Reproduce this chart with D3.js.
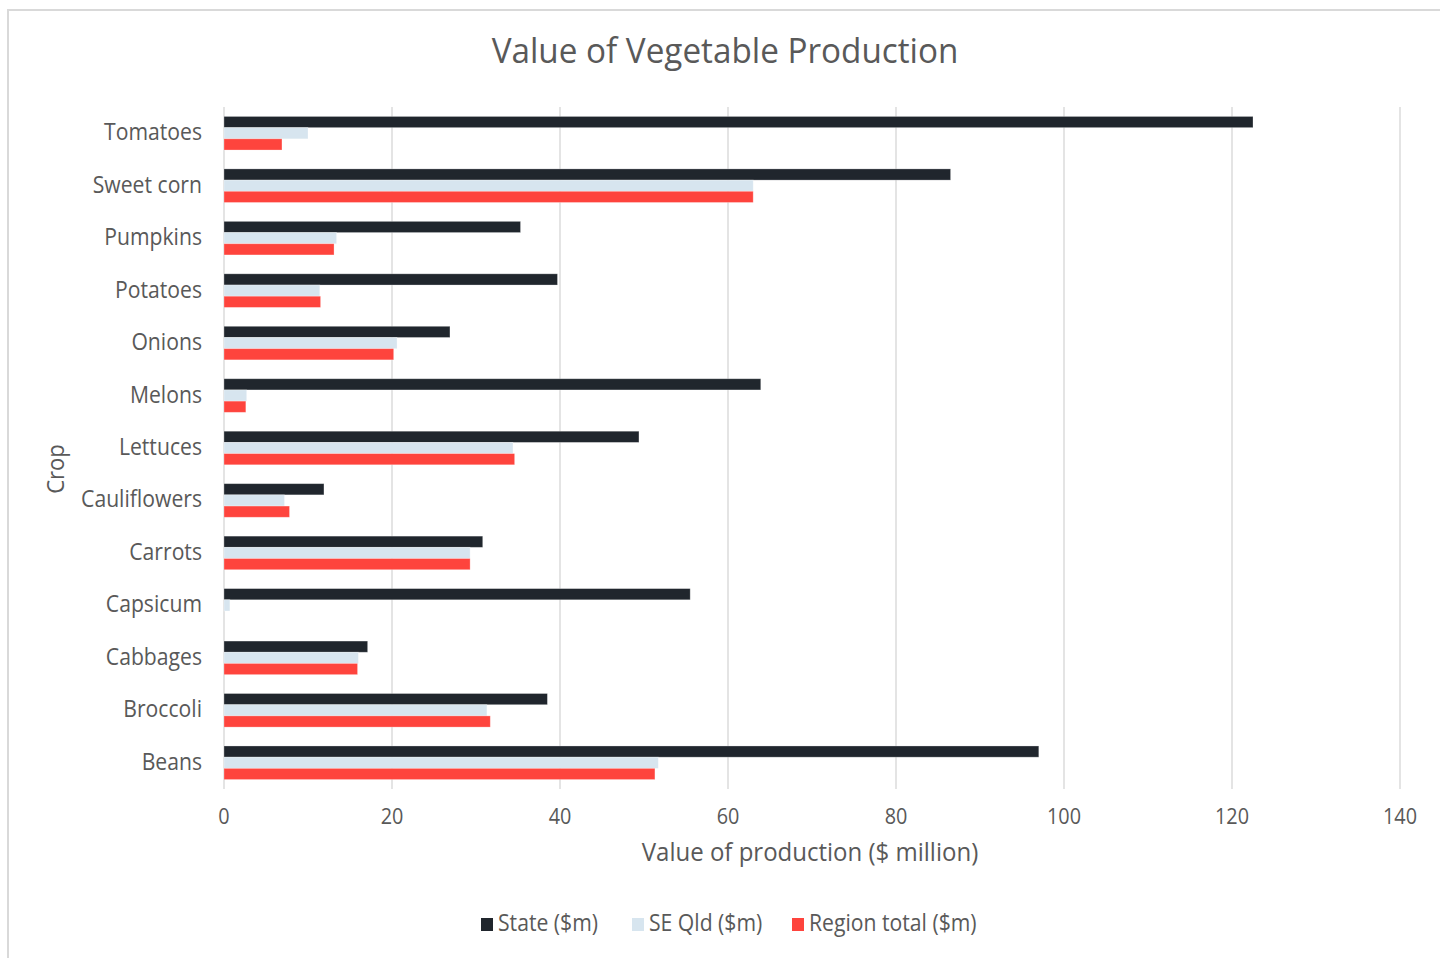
<!DOCTYPE html>
<html>
<head>
<meta charset="utf-8">
<script src="https://cdn.jsdelivr.net/npm/d3@7"></script>
<style>
	html, body { margin: 0; padding: 0; background: #fff; }
	text { font-family: 'Open Sans', 'Noto Sans', sans-serif; fill: #595959; }
</style>
</head>
<body>
<div id="chart"></div>
<script>
const crops = ['Tomatoes', 'Sweet corn', 'Pumpkins', 'Potatoes', 'Onions', 'Melons', 'Lettuces', 'Cauliflowers', 'Carrots', 'Capsicum', 'Cabbages', 'Broccoli', 'Beans'];
const stateValues = [122.5, 86.5, 35.3, 39.7, 26.9, 63.9, 49.4, 11.9, 30.8, 55.5, 17.1, 38.5, 97.0];
const seQldValues = [10.0, 63.0, 13.4, 11.4, 20.6, 2.7, 34.4, 7.2, 29.3, 0.7, 16.0, 31.3, 51.7];
const regionValues = [6.9, 63.0, 13.1, 11.5, 20.2, 2.6, 34.6, 7.8, 29.3, 0, 15.9, 31.7, 51.3];
const seriesNames = ['State ($m)', 'SE Qld ($m)', 'Region total ($m)'];
const seriesColors = ['#20262d', '#d7e5ef', '#fe443d'];
const xTicks = [0, 20, 40, 60, 80, 100, 120, 140];

const width = 1440;
const height = 958;
const plot = { left: 224, right: 1400, top: 107, bottom: 789 };

// squeeze text horizontally, the reference font is narrower than what we have
const condense = (sel, k) => {
	sel.each(function () {
		const w = this.getComputedTextLength();
		this.setAttribute('textLength', w * k);
		this.setAttribute('lengthAdjust', 'spacingAndGlyphs');
	});
};

const svg = d3.select('#chart').append('svg').attr('width', width).attr('height', height);

// chart frame
svg.append('rect')
	.attr('x', 8).attr('y', 10)
	.attr('width', width).attr('height', height)
	.attr('fill', 'none')
	.attr('stroke', '#d9d9d9')
	.attr('stroke-width', 2);

const x = d3.scaleLinear().domain([0, 140]).range([plot.left, plot.right]);
const y = d3.scaleBand().domain(crops).range([plot.top, plot.bottom]).paddingInner(0.36).paddingOuter(0.18);
const ySub = d3.scaleBand().domain(d3.range(3)).range([0, y.bandwidth()]);

// grid
svg.append('g')
	.selectAll('line')
	.data(xTicks)
	.enter()
	.append('line')
	.attr('x1', d => x(d)).attr('x2', d => x(d))
	.attr('y1', plot.top).attr('y2', plot.bottom)
	.attr('stroke', '#d9d9d9')
	.attr('stroke-width', 1.4);

// bars
const series = [stateValues, seQldValues, regionValues];
const rows = crops.map((c, i) => ({ crop: c, values: series.map(s => s[i]) }));

const groups = svg.append('g')
	.selectAll('g')
	.data(rows)
	.enter()
	.append('g')
	.attr('transform', d => `translate(0,${y(d.crop)})`);

groups.selectAll('rect')
	.data(d => d.values.map((v, k) => ({ v, k })))
	.enter()
	.append('rect')
	.attr('x', x(0))
	.attr('y', d => ySub(d.k))
	.attr('width', d => x(d.v) - x(0))
	.attr('height', ySub.bandwidth())
	.attr('fill', d => seriesColors[d.k])
	.attr('stroke', 'rgba(255,255,255,0.35)')
	.attr('stroke-width', 0.8);

// category labels
const catLabels = svg.append('g')
	.selectAll('text')
	.data(crops)
	.enter()
	.append('text')
	.attr('x', 202)
	.attr('y', d => y(d) + y.bandwidth() / 2 + 7)
	.attr('text-anchor', 'end')
	.attr('font-size', 23)
	.text(d => d);
condense(catLabels, 0.92);

// tick labels
const tickLabels = svg.append('g')
	.selectAll('text')
	.data(xTicks)
	.enter()
	.append('text')
	.attr('x', d => x(d))
	.attr('y', 824)
	.attr('text-anchor', 'middle')
	.attr('font-size', 22)
	.text(d => d);
condense(tickLabels, 0.9);

// titles
const title = svg.append('text')
	.attr('x', 725).attr('y', 63)
	.attr('text-anchor', 'middle')
	.attr('font-size', 35)
	.text('Value of Vegetable Production');
condense(title, 0.95);

const xTitle = svg.append('text')
	.attr('x', 810).attr('y', 861)
	.attr('text-anchor', 'middle')
	.attr('font-size', 25)
	.text('Value of production ($ million)');
condense(xTitle, 0.96);

const yTitle = svg.append('text')
	.attr('transform', 'translate(64,469) rotate(-90)')
	.attr('text-anchor', 'middle')
	.attr('font-size', 24)
	.text('Crop');
condense(yTitle, 0.92);

// legend
const legendX = [481, 632, 792];
const legend = svg.append('g')
	.selectAll('g')
	.data(seriesNames)
	.enter()
	.append('g')
	.attr('transform', (d, i) => `translate(${legendX[i]},918)`);

legend.append('rect')
	.attr('width', 12).attr('height', 13)
	.attr('fill', (d, i) => seriesColors[i]);

const legendText = legend.append('text')
	.attr('x', 17).attr('y', 13)
	.attr('font-size', 23)
	.text(d => d);
condense(legendText, 0.92);
</script>
</body>
</html>
